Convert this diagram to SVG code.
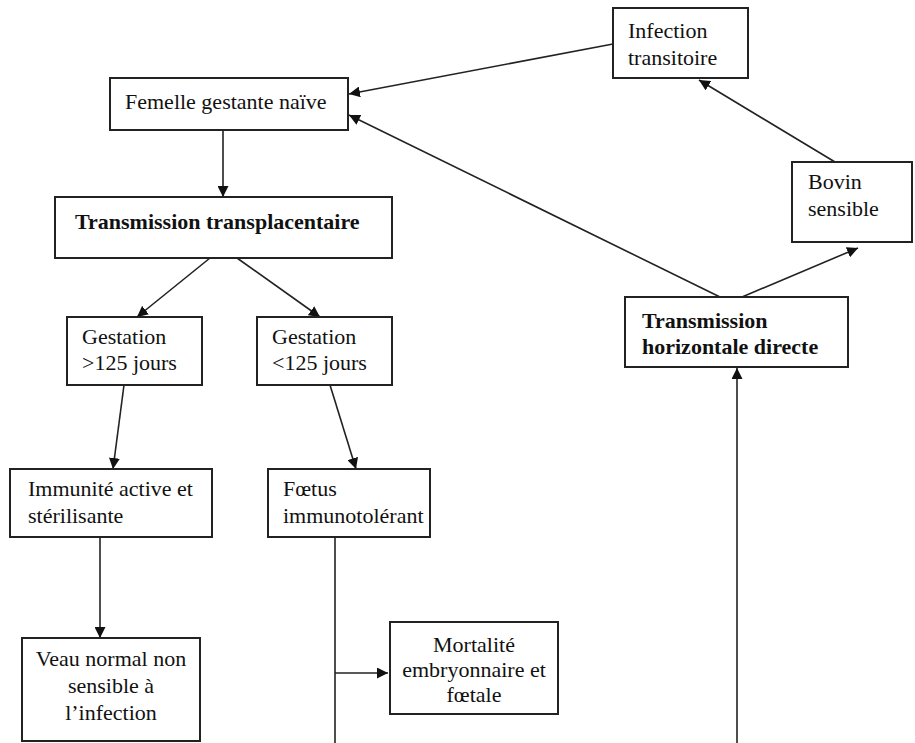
<svg xmlns="http://www.w3.org/2000/svg" width="915" height="743" viewBox="0 0 915 743">
<style>
.box{fill:#fff;stroke:#222;stroke-width:2}
.t{font-family:"Liberation Serif","Times New Roman",serif;font-size:22px;fill:#111}
.b{font-weight:bold}
.c{text-anchor:middle}
.ln{fill:none;stroke:#222;stroke-width:1.6}
</style>
<defs>
<marker id="ah" viewBox="0 0 10 10" refX="10" refY="5" markerWidth="11" markerHeight="11" markerUnits="userSpaceOnUse" orient="auto">
<path d="M0,0 L10,5 L0,10 z" fill="#111"/>
</marker>
</defs>
<rect width="915" height="743" fill="#fff"/>
<g id="connectors">
<line class="ln" x1="613" y1="44" x2="349" y2="94" marker-end="url(#ah)"/>
<line class="ln" x1="720" y1="297" x2="349" y2="115" marker-end="url(#ah)"/>
<line class="ln" x1="835" y1="162" x2="699" y2="80" marker-end="url(#ah)"/>
<line class="ln" x1="742" y1="297" x2="858" y2="248" marker-end="url(#ah)"/>
<line class="ln" x1="737" y1="743" x2="737" y2="368" marker-end="url(#ah)"/>
<line class="ln" x1="223" y1="130" x2="223" y2="197" marker-end="url(#ah)"/>
<line class="ln" x1="210" y1="258" x2="137" y2="317" marker-end="url(#ah)"/>
<line class="ln" x1="237" y1="258" x2="320" y2="317" marker-end="url(#ah)"/>
<line class="ln" x1="124" y1="385" x2="113" y2="469" marker-end="url(#ah)"/>
<line class="ln" x1="330" y1="385" x2="356" y2="469" marker-end="url(#ah)"/>
<line class="ln" x1="100" y1="537" x2="100" y2="638" marker-end="url(#ah)"/>
<line class="ln" x1="335" y1="537" x2="335" y2="743"/>
<line class="ln" x1="335" y1="673" x2="388" y2="673" marker-end="url(#ah)"/>
</g>
<g id="femelle">
<rect class="box" x="110" y="78" width="238" height="52"/>
<text class="t" x="125" y="109">Femelle gestante naïve</text>
</g>
<g id="infection">
<rect class="box" x="613" y="8" width="135" height="70"/>
<text class="t" x="628" y="38">Infection</text>
<text class="t" x="628" y="65">transitoire</text>
</g>
<g id="bovin">
<rect class="box" x="792" y="162" width="120" height="80"/>
<text class="t" x="808" y="189">Bovin</text>
<text class="t" x="808" y="216">sensible</text>
</g>
<g id="transplacentaire">
<rect class="box" x="55" y="197" width="337" height="61"/>
<text class="t b" x="75" y="229">Transmission transplacentaire</text>
</g>
<g id="horizontale">
<rect class="box" x="625" y="297" width="223" height="70"/>
<text class="t b" x="642" y="328">Transmission</text>
<text class="t b" x="642" y="354">horizontale directe</text>
</g>
<g id="gestation-sup">
<rect class="box" x="67" y="317" width="135" height="68"/>
<text class="t" x="82" y="344">Gestation</text>
<text class="t" x="82" y="370">&gt;125 jours</text>
</g>
<g id="gestation-inf">
<rect class="box" x="257" y="317" width="135" height="68"/>
<text class="t" x="272" y="344">Gestation</text>
<text class="t" x="272" y="370">&lt;125 jours</text>
</g>
<g id="immunite">
<rect class="box" x="10" y="469" width="202" height="68"/>
<text class="t" x="28" y="496">Immunité active et</text>
<text class="t" x="28" y="523">stérilisante</text>
</g>
<g id="foetus">
<rect class="box" x="268" y="469" width="162" height="68"/>
<text class="t" x="283" y="496">Fœtus</text>
<text class="t" x="283" y="523">immunotolérant</text>
</g>
<g id="veau">
<rect class="box" x="22" y="638" width="178" height="103"/>
<text class="t c" x="111" y="666">Veau normal non</text>
<text class="t c" x="111" y="693">sensible à</text>
<text class="t c" x="111" y="720">l’infection</text>
</g>
<g id="mortalite">
<rect class="box" x="390" y="622" width="168" height="92"/>
<text class="t c" x="474" y="652">Mortalité</text>
<text class="t c" x="474" y="677">embryonnaire et</text>
<text class="t c" x="474" y="702">fœtale</text>
</g>
</svg>
